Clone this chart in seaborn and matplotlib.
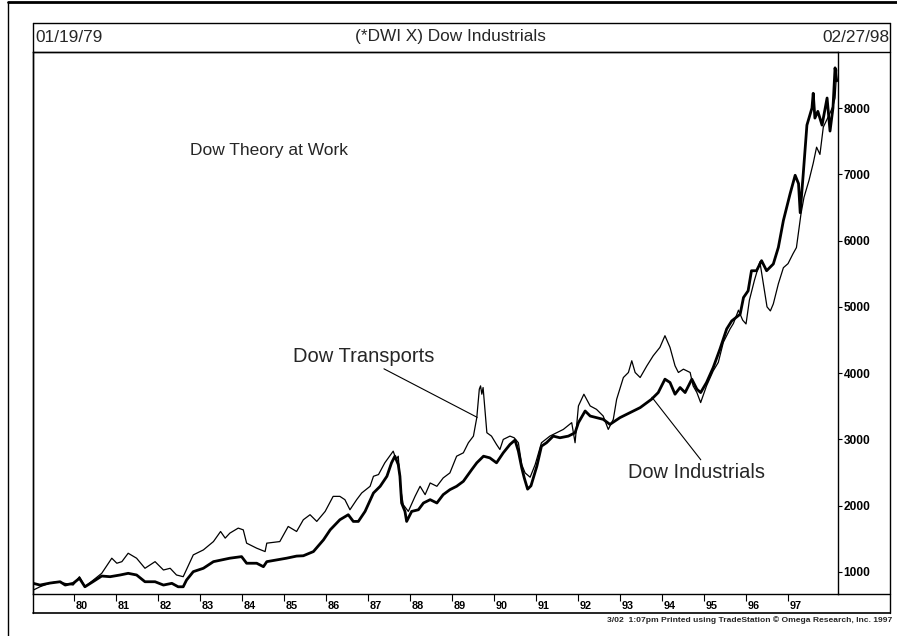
import matplotlib
matplotlib.use("Agg")
import matplotlib.pyplot as plt
from matplotlib.lines import Line2D
import matplotlib.transforms as mtransforms
import numpy as np
import pandas as pd
import seaborn as sns

# ---------------- data ----------------
ind_year = [1979.03, 1979.19, 1979.43, 1979.67, 1979.79, 1979.98, 1980.13, 1980.26, 1980.45, 1980.66,
            1980.86, 1981.10, 1981.29, 1981.49, 1981.69, 1981.93, 1982.13, 1982.33, 1982.48, 1982.60,
            1982.68, 1982.84, 1983.08, 1983.32, 1983.52, 1983.71, 1983.99, 1984.11, 1984.35, 1984.51,
            1984.59, 1984.83, 1985.06, 1985.30, 1985.46, 1985.70, 1985.94, 1986.10, 1986.33, 1986.53,
            1986.65, 1986.77, 1986.93, 1987.13, 1987.29, 1987.45, 1987.56, 1987.64, 1987.72, 1987.76,
            1987.80, 1987.88, 1987.92, 1988.04, 1988.20, 1988.32, 1988.48, 1988.64, 1988.79, 1988.95,
            1989.11, 1989.27, 1989.47, 1989.59, 1989.75, 1989.90, 1990.06, 1990.22, 1990.38, 1990.50,
            1990.58, 1990.66, 1990.72, 1990.80, 1990.88, 1991.02, 1991.13, 1991.25, 1991.41, 1991.57,
            1991.77, 1991.93, 1992.01, 1992.17, 1992.29, 1992.44, 1992.60, 1992.76, 1993.00, 1993.24,
            1993.48, 1993.75, 1993.91, 1994.07, 1994.19, 1994.31, 1994.43, 1994.55, 1994.71, 1994.83,
            1994.92, 1995.06, 1995.22, 1995.38, 1995.54, 1995.66, 1995.86, 1995.94, 1996.05, 1996.13,
            1996.25, 1996.37, 1996.49, 1996.65, 1996.77, 1996.89, 1996.97, 1997.05, 1997.17, 1997.25,
            1997.29, 1997.36, 1997.45, 1997.57, 1997.60, 1997.64, 1997.71, 1997.81, 1997.93, 1998.00,
            1998.07, 1998.12, 1998.16]
ind_value = [829, 803, 833, 853, 803, 829, 905, 777, 853, 939,
             929, 955, 980, 955, 853, 853, 803, 829, 777, 777,
             879, 1005, 1056, 1156, 1182, 1208, 1232, 1132, 1132, 1080,
             1156, 1182, 1208, 1240, 1245, 1308, 1485, 1636, 1788, 1864,
             1763, 1763, 1914, 2192, 2293, 2444, 2647, 2747, 2621, 2444,
             2041, 1914, 1763, 1914, 1939, 2041, 2091, 2041, 2167, 2242,
             2293, 2368, 2545, 2647, 2747, 2722, 2647, 2798, 2924, 2990,
             2823, 2571, 2420, 2250, 2300, 2596, 2899, 2950, 3050, 3025,
             3050, 3101, 3253, 3429, 3353, 3329, 3303, 3227, 3329, 3404,
             3480, 3606, 3707, 3909, 3859, 3682, 3783, 3707, 3909, 3758,
             3707, 3859, 4086, 4364, 4667, 4788, 4889, 5141, 5242, 5545,
             5545, 5697, 5545, 5647, 5898, 6303, 6505, 6707, 6985, 6859,
             6420, 6985, 7742, 8000, 8222, 7848, 7950, 7742, 8151, 7652,
             8000, 8606, 8409]

trn_year = [1979.03, 1979.19, 1979.43, 1979.59, 1979.98, 1980.13, 1980.26, 1980.46, 1980.66, 1980.90,
            1981.02, 1981.14, 1981.29, 1981.49, 1981.69, 1981.93, 1982.13, 1982.29, 1982.44, 1982.60,
            1982.84, 1983.08, 1983.32, 1983.49, 1983.60, 1983.71, 1983.91, 1984.03, 1984.11, 1984.35,
            1984.55, 1984.59, 1984.90, 1985.10, 1985.30, 1985.46, 1985.62, 1985.78, 1985.98, 1986.17,
            1986.33, 1986.45, 1986.57, 1986.73, 1986.85, 1987.05, 1987.13, 1987.25, 1987.40, 1987.60,
            1987.67, 1987.72, 1987.78, 1987.84, 1987.96, 1988.12, 1988.24, 1988.36, 1988.48, 1988.64,
            1988.79, 1988.95, 1989.11, 1989.27, 1989.39, 1989.51, 1989.59, 1989.65, 1989.68, 1989.71,
            1989.74, 1989.79, 1989.83, 1989.94, 1990.06, 1990.14, 1990.22, 1990.38, 1990.48, 1990.58,
            1990.66, 1990.74, 1990.86, 1990.98, 1991.13, 1991.33, 1991.49, 1991.65, 1991.85, 1991.93,
            1992.01, 1992.14, 1992.29, 1992.44, 1992.60, 1992.72, 1992.84, 1992.92, 1993.08, 1993.20,
            1993.28, 1993.36, 1993.48, 1993.64, 1993.79, 1993.95, 1994.07, 1994.19, 1994.31, 1994.39,
            1994.51, 1994.67, 1994.74, 1994.83, 1994.92, 1995.06, 1995.22, 1995.34, 1995.46, 1995.62,
            1995.70, 1995.82, 1995.92, 1996.00, 1996.08, 1996.20, 1996.33, 1996.50, 1996.58, 1996.65,
            1996.77, 1996.89, 1997.00, 1997.12, 1997.20, 1997.31, 1997.38, 1997.50, 1997.60, 1997.68,
            1997.76, 1997.84, 1998.00, 1998.07, 1998.12, 1998.16]
trn_value = [727, 777, 833, 853, 803, 929, 777, 879, 980, 1208,
             1132, 1156, 1283, 1208, 1056, 1156, 1030, 1056, 955, 929,
             1258, 1333, 1459, 1611, 1511, 1586, 1662, 1636, 1435, 1359,
             1308, 1435, 1459, 1687, 1611, 1788, 1864, 1763, 1914, 2141,
             2141, 2091, 1939, 2091, 2192, 2293, 2444, 2470, 2647, 2823,
             2697, 2747, 2242, 2015, 1914, 2141, 2293, 2167, 2343, 2293,
             2419, 2495, 2747, 2798, 2950, 3050, 3329, 3758, 3808, 3682,
             3783, 3404, 3101, 3050, 2924, 2848, 3000, 3050, 3025, 2950,
             2621, 2495, 2430, 2621, 2950, 3050, 3101, 3151, 3253, 2950,
             3505, 3682, 3505, 3454, 3353, 3151, 3303, 3606, 3934, 4010,
             4187, 4010, 3934, 4111, 4262, 4389, 4565, 4389, 4111, 4010,
             4060, 4010, 3808, 3707, 3556, 3808, 4035, 4162, 4465, 4667,
             4750, 4950, 4800, 4742, 5100, 5400, 5680, 5000, 4939, 5045,
             5348, 5591, 5652, 5803, 5894, 6409, 6652, 6909, 7167, 7409,
             7300, 7712, 7924, 8030, 8151, 8576]

year_ticks = list(range(1980, 1998))
year_labels = ["80", "81", "82", "83", "84", "85", "86", "87", "88", "89",
               "90", "91", "92", "93", "94", "95", "96", "97"]
value_ticks = [1000, 2000, 3000, 4000, 5000, 6000, 7000, 8000]
value_labels = ["1000", "2000", "3000", "4000", "5000", "6000", "7000", "8000"]

# ---------------- style ----------------
sns.set_theme(style="white")
plt.rcParams["font.family"] = ["Liberation Sans", "DejaVu Sans"]

W, H = 897, 636
fig = plt.figure(figsize=(W / 100, H / 100), dpi=100)
fig.patch.set_facecolor("white")

def fx(px):
    return px / W

def fy(py):
    return (H - py) / H

ax = fig.add_axes([fx(33), fy(594), fx(838) - fx(33), fy(52) - fy(594)])
ax.set_facecolor("white")

trn = pd.DataFrame({"year": trn_year, "value": trn_value})
ind = pd.DataFrame({"year": ind_year, "value": ind_value})
sns.lineplot(data=trn, x="year", y="value", ax=ax, color="black", linewidth=0.9,
             estimator=None, sort=False)
sns.lineplot(data=ind, x="year", y="value", ax=ax, color="black", linewidth=2.0,
             estimator=None, sort=False)

ax.set_xlim(1979.024, 1998.19)
ax.set_ylim(668, 8845)
ax.set_xlabel("")
ax.set_ylabel("")

for s in ax.spines.values():
    s.set_color("black")
    s.set_linewidth(1.0)

# x ticks: tick down into band, label to the right of tick
ax.set_xticks(year_ticks)
ax.set_xticklabels(year_labels, fontsize=7.8, fontweight="bold")
ax.tick_params(axis="x", direction="out", length=5, width=0.8, pad=0, colors="black",
               bottom=True)
offset = mtransforms.ScaledTranslation(1.5 / 100, 0, fig.dpi_scale_trans)
for lbl in ax.get_xticklabels():
    lbl.set_ha("left")
    lbl.set_transform(lbl.get_transform() + offset)

# y ticks on the right
ax.yaxis.tick_right()
ax.set_yticks(value_ticks)
ax.set_yticklabels(value_labels, fontsize=8.6, fontweight="bold")
ax.tick_params(axis="y", direction="out", length=3, width=0.8, pad=1, colors="black",
               right=True, left=False)

# annotations
ax.text(1982.76, 7364, "Dow Theory at Work", fontsize=12.5, va="center", ha="left")
ax.annotate("Dow Transports", xy=(1989.6, 3333), xytext=(1985.21, 4258),
            fontsize=14.5, va="center", ha="left",
            arrowprops=dict(arrowstyle="-", color="black", lw=0.8,
                            shrinkA=0, shrinkB=0, relpos=(0.6, 0.0)))
ax.annotate("Dow Industrials", xy=(1993.76, 3636), xytext=(1993.19, 2500),
            fontsize=14.4, va="center", ha="left",
            arrowprops=dict(arrowstyle="-", color="black", lw=0.8,
                            shrinkA=0, shrinkB=0, relpos=(0.55, 1.0)))

# ---------------- frame / header ----------------
def fline(x0, y0, x1, y1, lw=1.0):
    fig.add_artist(Line2D([fx(x0), fx(x1)], [fy(y0), fy(y1)], color="black",
                          linewidth=lw, transform=fig.transFigure))

fline(8, 2, 897, 2, lw=2.0)      # page top
fline(8, 2, 8, 636, lw=1.0)      # page left
fline(33, 23, 890, 23, lw=1.0)   # box top
fline(33, 23, 33, 613, lw=1.0)   # box left
fline(890, 23, 890, 613, lw=1.0) # box right
fline(33, 613, 890, 613, lw=1.2) # box bottom
fline(33, 52, 890, 52, lw=1.0)   # header separator
fline(838, 594, 890, 594, lw=1.0)  # axis line extension

fig.text(fx(35), fy(37), "01/19/79", fontsize=12.4, ha="left", va="center")
fig.text(fx(450), fy(37), "(*DWI X) Dow Industrials", fontsize=12.4, ha="center", va="center")
fig.text(fx(889), fy(37), "02/27/98", fontsize=12.4, ha="right", va="center")
fig.text(fx(892), fy(620),
         "3/02  1:07pm Printed using TradeStation \u00a9 Omega Research, Inc. 1997",
         fontsize=6.1, fontweight="bold", ha="right", va="center")

fig.savefig("out.png", dpi=100, facecolor="white")
